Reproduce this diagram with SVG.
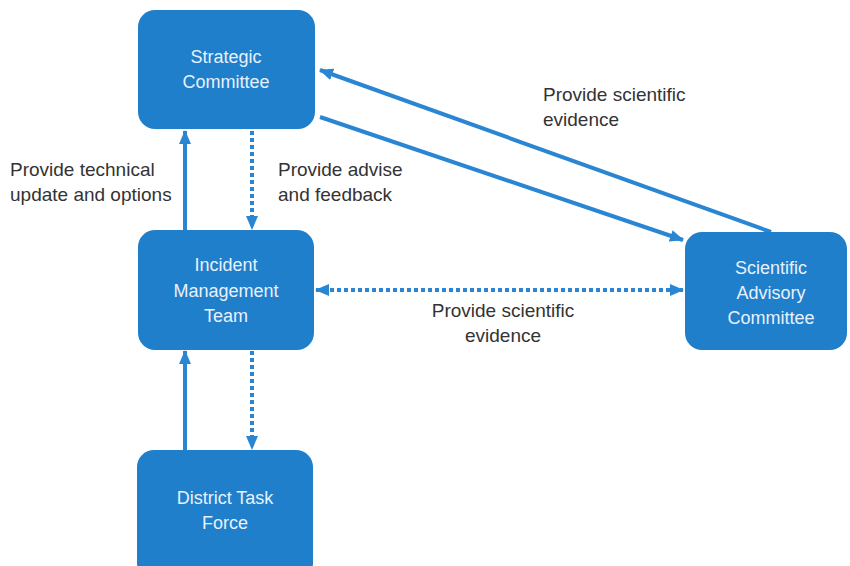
<svg xmlns="http://www.w3.org/2000/svg" width="850" height="566" viewBox="0 0 850 566">
  <style>
    .box { fill: #1f7fcb; }
    .boxtext { font-family: "Liberation Sans", Arial, sans-serif; font-size: 18px; fill: #e8f1fb; text-anchor: middle; }
    .label { font-family: "Liberation Sans", Arial, sans-serif; font-size: 19px; fill: #333333; }
    .solid { stroke: #2a86d2; stroke-width: 4; fill: none; }
    .dotted { stroke: #2a86d2; stroke-width: 4; fill: none; stroke-dasharray: 4 3; }
  </style>
  <defs>
    <marker id="arrow" markerUnits="userSpaceOnUse" markerWidth="14" markerHeight="14" viewBox="0 0 14 14" refX="13" refY="7" orient="auto-start-reverse">
      <path d="M0,1 L14,7 L0,13 Z" fill="#2a86d2"/>
    </marker>
  </defs>
  <rect width="850" height="566" fill="#ffffff"/>

  <g id="connectors">
    <!-- Incident Management Team -> Strategic Committee -->
    <line class="solid" x1="185" y1="231" x2="185" y2="131" marker-end="url(#arrow)"/>
    <!-- Strategic Committee -> Incident Management Team -->
    <line class="dotted" x1="252" y1="131" x2="252" y2="229" marker-end="url(#arrow)"/>
    <!-- District Task Force -> Incident Management Team -->
    <line class="solid" x1="185" y1="451" x2="185" y2="351" marker-end="url(#arrow)"/>
    <!-- Incident Management Team -> District Task Force -->
    <line class="dotted" x1="252" y1="351" x2="252" y2="449" marker-end="url(#arrow)"/>
    <!-- Scientific Advisory Committee -> Strategic Committee -->
    <line class="solid" x1="771" y1="232" x2="320" y2="70" marker-end="url(#arrow)"/>
    <!-- Strategic Committee -> Scientific Advisory Committee -->
    <line class="solid" x1="320" y1="117" x2="683" y2="240" marker-end="url(#arrow)"/>
    <!-- Incident Management Team <-> Scientific Advisory Committee -->
    <line class="dotted" x1="316" y1="290" x2="683" y2="290" marker-start="url(#arrow)" marker-end="url(#arrow)"/>
  </g>

  <g id="labels">
    <text class="label" x="10" y="176">Provide technical</text>
    <text class="label" x="10" y="201">update and options</text>
    <text class="label" x="278" y="176">Provide advise</text>
    <text class="label" x="278" y="201">and feedback</text>
    <text class="label" x="543" y="101">Provide scientific</text>
    <text class="label" x="543" y="126">evidence</text>
    <text class="label" x="503" y="317" text-anchor="middle">Provide scientific</text>
    <text class="label" x="503" y="342" text-anchor="middle">evidence</text>
  </g>

  <g id="strategic-committee">
    <rect class="box" x="138" y="10" width="177" height="119" rx="17"/>
    <text class="boxtext" x="226" y="63">Strategic</text>
    <text class="boxtext" x="226" y="88">Committee</text>
  </g>

  <g id="incident-management-team">
    <rect class="box" x="138" y="230" width="176" height="120" rx="17"/>
    <text class="boxtext" x="226" y="271">Incident</text>
    <text class="boxtext" x="226" y="297">Management</text>
    <text class="boxtext" x="226" y="322">Team</text>
  </g>

  <g id="district-task-force">
    <rect class="box" x="137" y="450" width="176" height="130" rx="17"/>
    <text class="boxtext" x="225" y="504">District Task</text>
    <text class="boxtext" x="225" y="529">Force</text>
  </g>

  <g id="scientific-advisory-committee">
    <rect class="box" x="685" y="232" width="162" height="118" rx="17"/>
    <text class="boxtext" x="771" y="274">Scientific</text>
    <text class="boxtext" x="771" y="299">Advisory</text>
    <text class="boxtext" x="771" y="324">Committee</text>
  </g>
</svg>
